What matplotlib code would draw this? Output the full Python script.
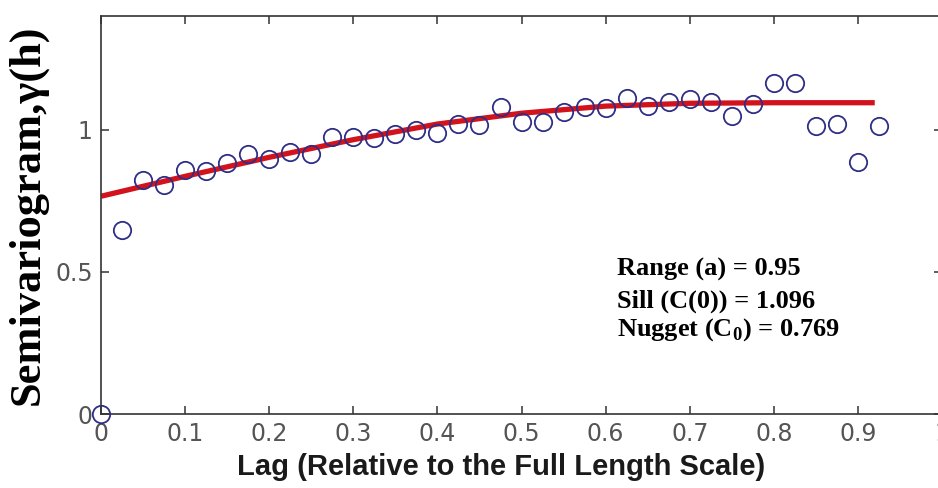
import matplotlib
matplotlib.use("Agg")
import matplotlib.pyplot as plt

plt.rcParams['mathtext.fontset'] = 'custom'
plt.rcParams['mathtext.rm'] = 'Liberation Serif:bold'
plt.rcParams['mathtext.bf'] = 'Liberation Serif:bold'

# experimental semivariogram (lag as fraction of full length scale)
lag = [0.0, 0.025, 0.05, 0.075, 0.1, 0.125, 0.15, 0.175, 0.2, 0.225,
       0.25, 0.275, 0.3, 0.325, 0.35, 0.375, 0.4, 0.425, 0.45, 0.475,
       0.5, 0.525, 0.55, 0.575, 0.6, 0.625, 0.65, 0.675, 0.7, 0.725,
       0.75, 0.775, 0.8, 0.825, 0.85, 0.875, 0.9, 0.925]
gamma = [0.0, 0.648, 0.824, 0.806, 0.859, 0.856, 0.884, 0.915, 0.898, 0.923,
         0.913, 0.975, 0.973, 0.972, 0.985, 0.998, 0.990, 1.021, 1.018, 1.081,
         1.027, 1.027, 1.063, 1.081, 1.077, 1.111, 1.083, 1.097, 1.108, 1.098,
         1.049, 1.092, 1.165, 1.165, 1.014, 1.020, 0.887, 1.014]

# fitted model curve
fit_lag = [0.0, 0.1, 0.2, 0.3, 0.4, 0.5, 0.6, 0.7, 0.8, 0.92]
fit_gamma = [0.766, 0.836, 0.903, 0.965, 1.020, 1.058, 1.083, 1.093, 1.095, 1.095]

model_text = ["Range (a) = 0.95",
              "Sill (C(0)) = 1.096",
              r"Nugget (C$_\mathbf{0}$) = 0.769"]
text_y = [0.507, 0.396, 0.298]

fig = plt.figure(figsize=(9.38, 4.88), dpi=100)
# axes runs slightly past the right edge of the figure
ax = fig.add_axes([0.1077, 0.1516, 0.8966, 0.8156])

ax.plot(fit_lag, fit_gamma, color='#d2121c', lw=3.8, solid_capstyle='butt', zorder=2)
ax.plot(lag, gamma, 'o', mfc='none', mec='#2e2e86', mew=1.3, ms=12.5, zorder=3,
        clip_on=False)

ax.set_xlim(0, 1)
ax.set_ylim(0, 1.4)
ax.set_xticks([0, 0.1, 0.2, 0.3, 0.4, 0.5, 0.6, 0.7, 0.8, 0.9, 1])
ax.set_xticklabels(['0', '0.1', '0.2', '0.3', '0.4', '0.5', '0.6', '0.7', '0.8', '0.9', '1'])
ax.set_yticks([0, 0.5, 1])
ax.set_yticklabels(['0', '0.5', '1'])
ax.tick_params(direction='in', length=6, width=1.1, color='#333333',
               top=True, right=True, labelsize=17, labelcolor='#555555', pad=6)
for sp in ax.spines.values():
    sp.set_color('#333333')
    sp.set_linewidth(1.2)

ax.set_xlabel("Lag (Relative to the Full Length Scale)", fontsize=21,
              fontweight='bold', family='Liberation Sans', color='#1a1a1a')
ax.xaxis.label.set_va('center')
ax.xaxis.set_label_coords(0.476, -0.133)

ax.set_ylabel("Semivariogram,γ(h)", fontsize=32, fontweight='bold',
              family='Liberation Serif', color='black')
ax.yaxis.label.set_va('center')
ax.yaxis.set_label_coords(-0.088, 0.5)

for s, y in zip(model_text, text_y):
    ax.text(0.6136, y, s, fontsize=19, fontweight='bold', family='Liberation Serif',
            va='center', ha='left')

fig.savefig('out.png', dpi=100)
